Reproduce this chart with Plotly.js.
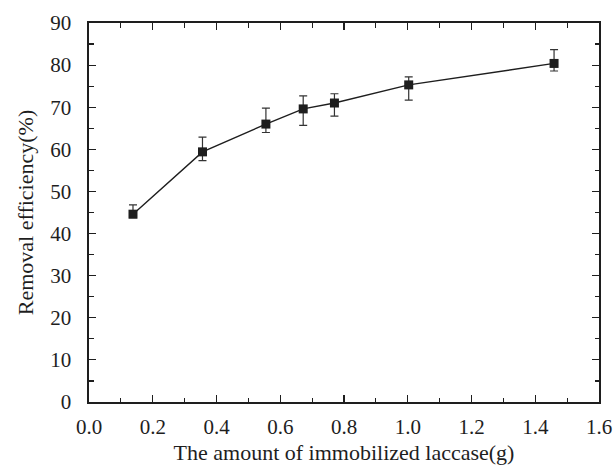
<!DOCTYPE html>
<html>
<head>
<meta charset="utf-8">
<script src="https://cdn.plot.ly/plotly-3.0.1.min.js"></script>
<style>
  html, body { margin: 0; padding: 0; background: #fff; }
  #chart { width: 615px; height: 465px; }
</style>
</head>
<body>
<div id="chart"></div>
<script>
// Laccase dosage (g) vs. removal efficiency (%) with error bars
const laccaseAmount = [0.138, 0.356, 0.555, 0.672, 0.770, 1.003, 1.459];
const removalEfficiency = [44.6, 59.4, 66.0, 69.6, 71.0, 75.3, 80.4];
const errorPlus = [2.2, 3.5, 3.8, 3.1, 2.2, 1.9, 3.3];
const errorMinus = [0.8, 2.1, 2.0, 3.9, 3.1, 3.6, 1.8];
const yTickVals = [0, 10, 20, 30, 40, 50, 60, 70, 80, 90];
const yTickText = ['0', '10', '20', '30', '40', '50', '60', '70', '80', '90'];
const xTickVals = [0, 0.2, 0.4, 0.6, 0.8, 1.0, 1.2, 1.4, 1.6];
const xTickText = ['0.0', '0.2', '0.4', '0.6', '0.8', '1.0', '1.2', '1.4', '1.6'];

const ink = '#1e1e1e';
const serif = "'Liberation Serif', 'Times New Roman', serif";

const trace = {
  x: laccaseAmount,
  y: removalEfficiency,
  type: 'scatter',
  mode: 'lines+markers',
  line: { color: ink, width: 1.4 },
  marker: { symbol: 'square', size: 9, color: ink },
  error_y: {
    type: 'data',
    symmetric: false,
    array: errorPlus,
    arrayminus: errorMinus,
    color: '#333',
    thickness: 1.2,
    width: 4
  },
  showlegend: false,
  hoverinfo: 'skip'
};

function axisBase() {
  return {
    showgrid: false,
    zeroline: false,
    showline: true,
    linecolor: ink,
    linewidth: 1.6,
    mirror: 'ticks',
    ticks: 'inside',
    ticklen: 7,
    tickwidth: 1.2,
    tickcolor: ink,
    tickfont: { family: serif, size: 21, color: ink },
    tickmode: 'array'
  };
}

const layout = {
  width: 615,
  height: 465,
  font: { family: serif, size: 21, color: ink },
  margin: { l: 89, r: 16, t: 23, b: 63 },
  paper_bgcolor: '#fff',
  plot_bgcolor: '#fff',
  xaxis: Object.assign(axisBase(), {
    range: [0, 1.6],
    tickvals: xTickVals,
    ticktext: xTickText,
    ticklabelstandoff: 5,
    minor: { dtick: 0.1, ticks: 'inside', ticklen: 4.5, tickwidth: 1.2, tickcolor: ink },
    title: { text: 'The amount of immobilized laccase(g)', font: { family: serif, size: 22, color: ink }, standoff: 12 }
  }),
  yaxis: Object.assign(axisBase(), {
    range: [0, 90],
    tickvals: yTickVals,
    ticktext: yTickText,
    ticklabelstandoff: 12,
    minor: { dtick: 5, ticks: 'inside', ticklen: 4.5, tickwidth: 1.2, tickcolor: ink },
    title: { text: 'Removal efficiency(%)', font: { family: serif, size: 22, color: ink }, standoff: 10 }
  })
};

Plotly.newPlot('chart', [trace], layout, { displayModeBar: false, staticPlot: true });
</script>
</body>
</html>
